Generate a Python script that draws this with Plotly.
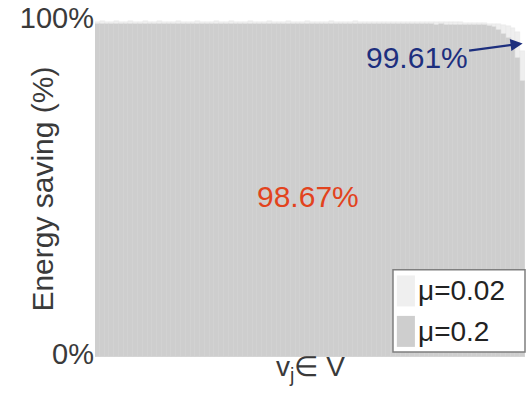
import plotly.graph_objects as go

# Per-node energy saving (%) for the two mu settings, nodes sorted left to right
saving_mu_002 = [
    99.8, 99.9, 99.8, 99.8, 99.9, 99.8, 99.8, 99.9, 99.8, 99.8,
    99.9, 99.8, 99.8, 99.9, 99.8, 99.8, 99.8, 99.9, 99.8, 99.8,
    99.8, 99.9, 99.8, 99.8, 99.8, 99.9, 99.8, 99.8, 99.9, 99.8,
    99.8, 99.8, 99.9, 99.8, 99.8, 99.8, 99.9, 99.8, 99.8, 99.8,
    99.9, 99.8, 99.8, 99.8, 99.9, 99.8, 99.8, 99.8, 99.8, 99.9,
    99.8, 99.8, 99.8, 99.8, 99.9, 99.8, 99.8, 99.8, 99.8, 99.8,
    99.8, 99.8, 99.8, 99.8, 99.8, 99.8, 99.7, 99.8, 99.8, 99.7,
    99.7, 99.7, 99.7, 99.7, 99.6, 99.6, 99.6, 99.5, 99.5, 99.4,
    99.4, 99.3, 99.2, 99.1, 99.0, 98.8, 98.5, 98.0, 96.8, 91.0,
]
saving_mu_02 = [
    99.1, 99.2, 99.1, 99.0, 99.2, 99.1, 99.1, 99.0, 99.2, 99.1,
    99.1, 99.0, 99.2, 99.1, 99.1, 99.2, 99.0, 99.1, 99.1, 99.2,
    99.1, 99.1, 99.0, 99.1, 99.2, 99.1, 99.0, 99.1, 99.1, 99.1,
    99.2, 99.1, 99.0, 99.1, 99.1, 99.2, 99.1, 99.0, 99.1, 99.1,
    99.1, 99.0, 99.1, 99.2, 99.1, 99.1, 99.0, 99.1, 99.1, 99.1,
    99.0, 99.1, 99.1, 99.1, 99.0, 99.1, 99.1, 99.0, 99.1, 99.1,
    99.0, 99.1, 99.0, 99.1, 99.0, 99.0, 99.1, 99.0, 99.0, 99.0,
    99.0, 98.9, 99.0, 98.9, 98.9, 98.9, 98.8, 98.8, 98.8, 98.8,
    98.8, 98.7, 98.5, 98.1, 97.2, 96.0, 94.8, 92.8, 89.0, 82.0,
]
nodes = list(range(len(saving_mu_02)))

series_names = ["μ=0.02", "μ=0.2"]
mean_labels = ["99.61%", "98.67%"]
y_ticks = [0, 100]
y_tick_text = ["0%", "100%"]

light = "#efefef"
dark = "#cecece"
font_family = "Liberation Sans, Arial, sans-serif"
text_grey = "#3a3a3a"

fig = go.Figure()
fig.add_trace(go.Bar(
    x=nodes, y=saving_mu_002, name=series_names[0],
    marker=dict(color=light, line=dict(color="#e8e8e8", width=0.4)),
    showlegend=False,
))
fig.add_trace(go.Bar(
    x=nodes, y=saving_mu_02, name=series_names[1],
    marker=dict(color=dark, line=dict(color="#d3d3d3", width=0.4)),
    showlegend=False,
))

annotations = [
    # y-axis title
    dict(text="Energy saving (%)", textangle=-90, xref="paper", yref="paper",
         x=-0.123, y=0.497, xanchor="center", yanchor="middle", showarrow=False,
         font=dict(size=30, color=text_grey, family=font_family)),
    # x-axis title
    dict(text="v<sub>j</sub>∈ V", xref="paper", yref="paper",
         x=0.502, y=0.0, xanchor="center", yanchor="top", yshift=8, showarrow=False,
         font=dict(size=28, color=text_grey, family=font_family)),
    # mean saving labels
    dict(text=mean_labels[1], xref="paper", yref="paper", x=0.495, y=0.477,
         xanchor="center", yanchor="middle", showarrow=False,
         font=dict(size=30, color="#e2431d", family=font_family)),
    dict(text=mean_labels[0], x=nodes[-1], y=93.3, xref="x", yref="y",
         ax=-106, ay=14, showarrow=True, arrowhead=2, arrowsize=1.1,
         arrowwidth=2.2, arrowcolor="#1d2f7e",
         font=dict(size=30, color="#1d2f7e", family=font_family)),
]

# legend box drawn by hand
legend_x0, legend_x1 = 0.693, 1.0
legend_rows = [0.196, 0.076]
swatch_colors = [light, dark]
shapes = [dict(type="rect", xref="paper", yref="paper",
               x0=legend_x0, x1=legend_x1, y0=0.0145, y1=0.259,
               line=dict(color="#7f7f7f", width=1.5), fillcolor="white", layer="above")]
for row, col, name in zip(legend_rows, swatch_colors, series_names):
    shapes.append(dict(type="rect", xref="paper", yref="paper",
                       x0=0.702, x1=0.744, y0=row - 0.046, y1=row + 0.046,
                       line=dict(width=0), fillcolor=col, layer="above"))
    annotations.append(dict(text=name, xref="paper", yref="paper", x=0.746, y=row,
                            xanchor="left", yanchor="middle", showarrow=False,
                            font=dict(size=28, color="#222222", family=font_family)))

fig.update_layout(
    width=527, height=401,
    margin=dict(l=95, r=2, t=13, b=44),
    paper_bgcolor="white", plot_bgcolor="white",
    barmode="overlay", bargap=0,
    font=dict(family=font_family, color=text_grey),
    xaxis=dict(range=[-0.5, len(nodes) - 0.5], showticklabels=False, ticks="",
               showgrid=False, zeroline=False, showline=False),
    yaxis=dict(range=[0, 100.3], tickvals=y_ticks, ticktext=y_tick_text,
               ticks="", showgrid=False, zeroline=False, showline=False,
               ticklabeloverflow="allow", ticklabelshift=-3,
               tickfont=dict(size=29, color=text_grey, family=font_family)),
    annotations=annotations,
    shapes=shapes,
)

fig.write_html("out.html")
